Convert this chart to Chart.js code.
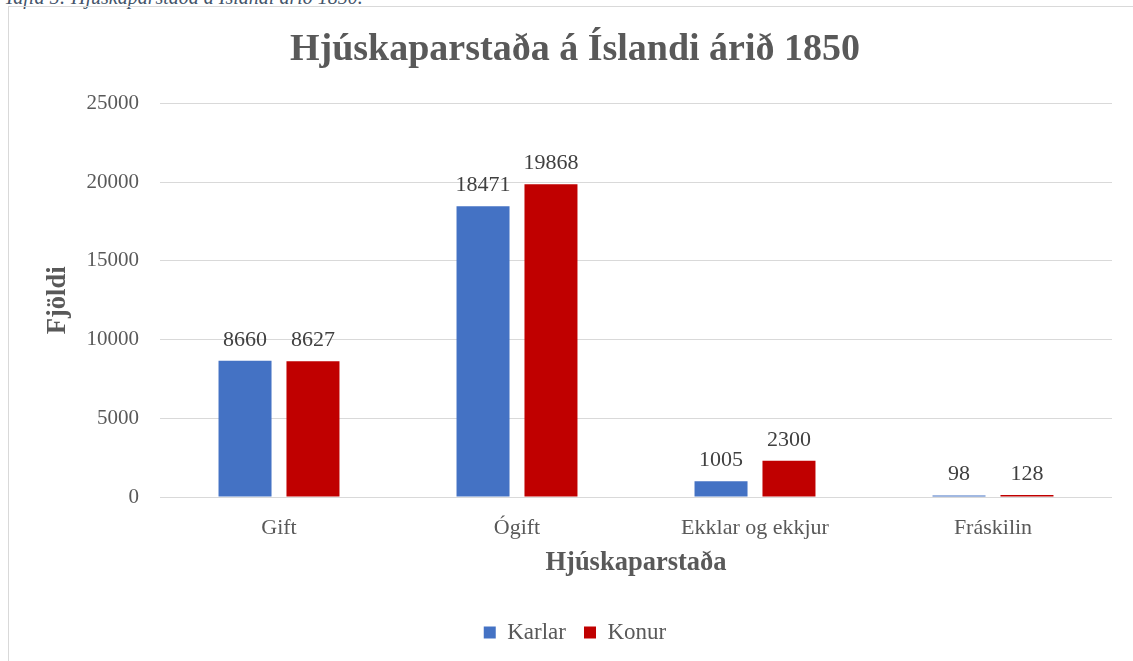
<!DOCTYPE html>
<html lang="is">
<head>
    <meta charset="UTF-8">
    <title>Hjúskaparstaða á Íslandi árið 1850</title>
    <script src="https://cdn.jsdelivr.net/npm/chart.js"></script>
    <style>
        html, body { margin: 0; padding: 0; background: #fff; overflow: hidden; }
        body { width: 1133px; height: 661px; position: relative; }
        #caption {
            position: absolute; left: 4px; top: -14px;
            font: italic 20px "Liberation Serif", serif; color: #44546a;
            white-space: nowrap;
        }
        #box {
            position: absolute; left: 8px; top: 6px; width: 1140px; height: 700px;
            border-left: 1px solid #d9d9d9; border-top: 1px solid #d9d9d9;
        }
        #wrap { position: absolute; left: 0; top: 0; width: 1134px; height: 680px; }
    </style>
</head>
<body>
    <div id="caption">Tafla 5: Hjúskaparstaða á Íslandi árið 1850.</div>
    <div id="box">
        <div id="wrap"><canvas id="hjuskapChart"></canvas></div>
    </div>
    <script>
        // gögn
        var flokkar = ['Gift', 'Ógift', 'Ekklar og ekkjur', 'Fráskilin'];
        var karlar = [8660, 18471, 1005, 98];
        var konur = [8627, 19868, 2300, 128];
        var yTicks = [0, 5000, 10000, 15000, 20000, 25000];

        var serif = '"Liberation Serif", "Times New Roman", serif';

        // tölur fyrir ofan súlurnar
        var gildiPlugin = {
            id: 'gildi',
            afterDatasetsDraw: function(chart) {
                var ctx = chart.ctx;
                ctx.save();
                ctx.font = '22px ' + serif;
                ctx.fillStyle = '#404040';
                ctx.textAlign = 'center';
                ctx.textBaseline = 'middle';
                chart.data.datasets.forEach(function(ds, i) {
                    chart.getDatasetMeta(i).data.forEach(function(bar, j) {
                        ctx.fillText(ds.data[j], bar.x, bar.y - 21);
                    });
                });
                ctx.restore();
            }
        };

        var ctx = document.getElementById('hjuskapChart').getContext('2d');
        var chart = new Chart(ctx, {
            type: 'bar',
            data: {
                labels: flokkar,
                datasets: [{
                    label: 'Karlar',
                    data: karlar,
                    backgroundColor: '#4472c4',
                    categoryPercentage: 0.571,
                    barPercentage: 0.78
                }, {
                    label: 'Konur',
                    data: konur,
                    backgroundColor: '#c00000',
                    categoryPercentage: 0.571,
                    barPercentage: 0.78
                }]
            },
            options: {
                responsive: true,
                maintainAspectRatio: false,
                animation: false,
                layout: { padding: { left: 29, right: 31, bottom: 33 } },
                plugins: {
                    title: {
                        display: true,
                        text: 'Hjúskaparstaða á Íslandi árið 1850',
                        color: '#595959',
                        font: { family: serif, size: 38, weight: 'bold' },
                        padding: { top: 20, bottom: 31 }
                    },
                    legend: {
                        position: 'bottom',
                        labels: {
                            color: '#595959',
                            font: { family: serif, size: 23 },
                            boxWidth: 12,
                            boxHeight: 12,
                            padding: 18
                        }
                    },
                    tooltip: { enabled: false }
                },
                scales: {
                    x: {
                        afterFit: function(axis) { axis.height = 106; },
                        grid: { display: false, drawTicks: false },
                        border: { display: false },
                        ticks: { color: '#595959', font: { family: serif, size: 22 }, padding: 18 },
                        title: {
                            display: true,
                            text: 'Hjúskaparstaða',
                            color: '#595959',
                            font: { family: serif, size: 26.5, weight: 'bold' },
                            padding: { top: 7, bottom: 24 }
                        }
                    },
                    y: {
                        min: 0,
                        max: 25000,
                        afterBuildTicks: function(axis) {
                            axis.ticks = yTicks.map(function(v) { return { value: v }; });
                        },
                        afterFit: function(axis) { axis.width = 122; },
                        grid: { color: '#d9d9d9', lineWidth: 1, drawTicks: false },
                        border: { display: false },
                        ticks: {
                            color: '#595959',
                            font: { family: serif, size: 21 },
                            padding: 21,
                            callback: function(v) { return String(v); }
                        },
                        title: {
                            display: true,
                            text: 'Fjöldi',
                            color: '#595959',
                            font: { family: serif, size: 26.5, weight: 'bold' },
                            padding: { top: 4, bottom: 0 }
                        }
                    }
                }
            },
            plugins: [gildiPlugin]
        });
    </script>
</body>
</html>
